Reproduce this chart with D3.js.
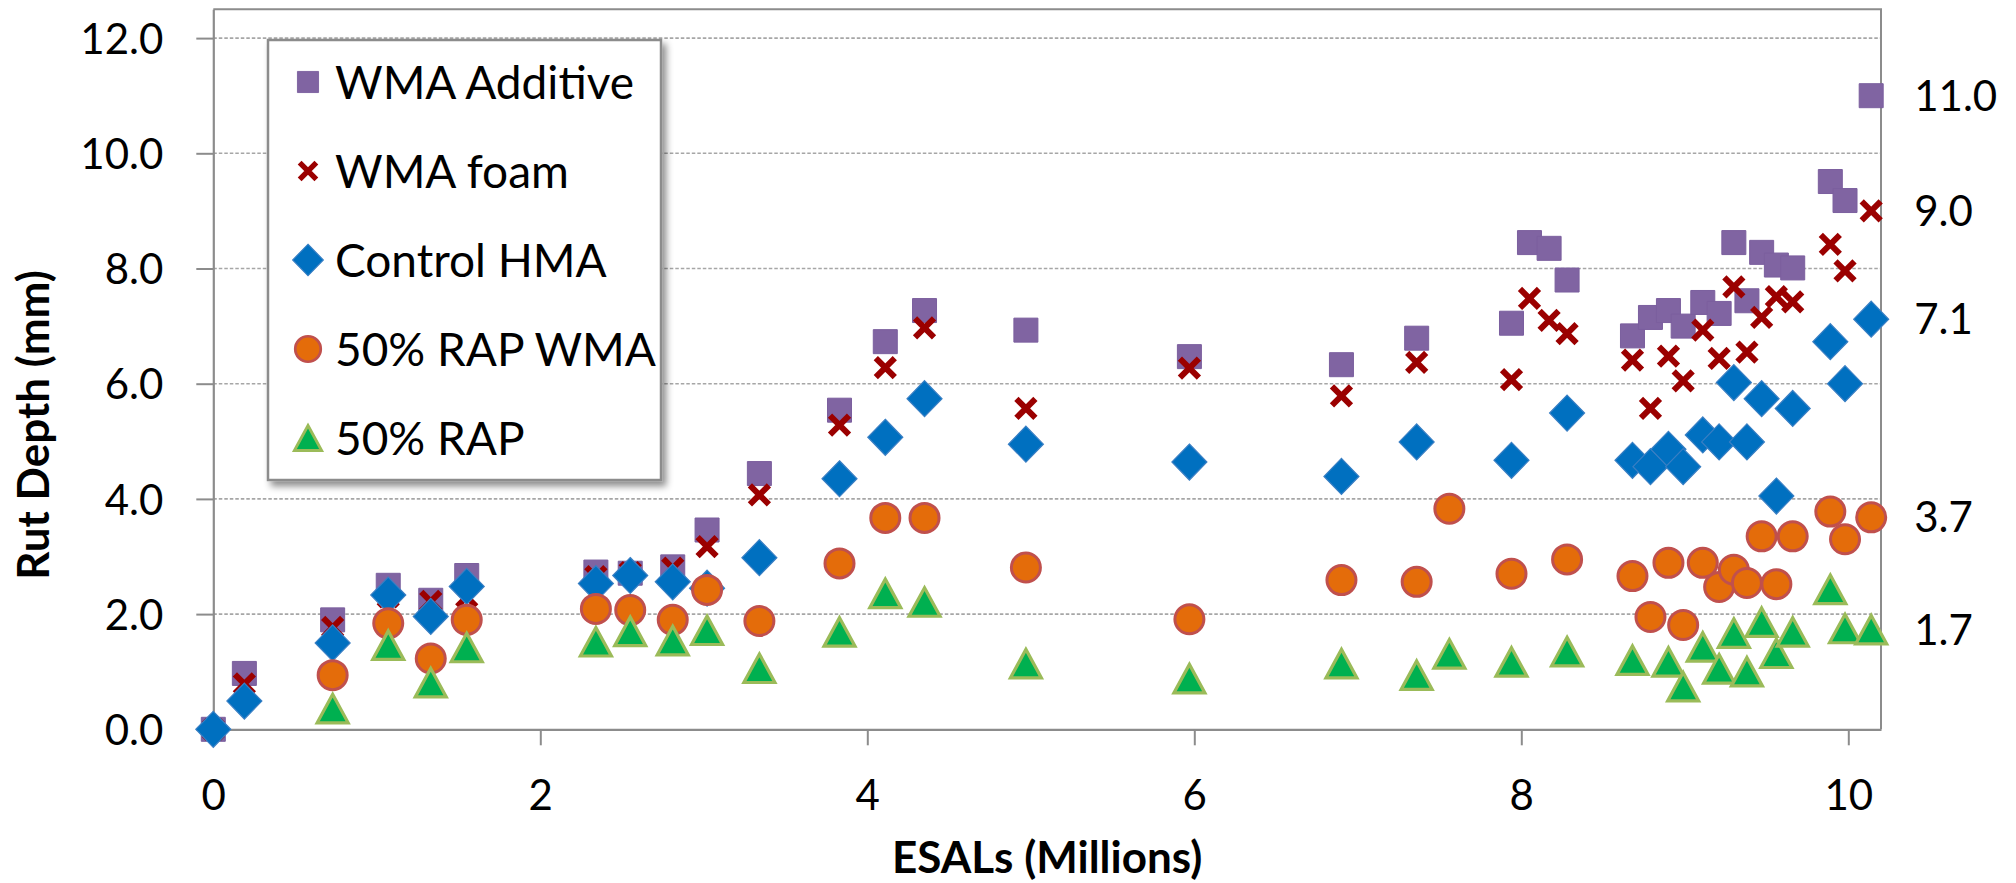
<!DOCTYPE html>
<html>
<head>
<meta charset="utf-8">
<script src="https://cdn.jsdelivr.net/npm/d3@7"></script>
<style>
  html, body { margin: 0; padding: 0; background: #fff; }
  svg { display: block; font-family: Lato, "Open Sans", sans-serif; }
  .tick text { fill: #000; }
</style>
</head>
<body>
<div id="chart"></div>
<script>
// ESALs (millions) at each reading
const esals = [0, 0.19, 0.73, 1.07, 1.33, 1.55, 2.34, 2.55, 2.81, 3.02, 3.34, 3.83, 4.11, 4.35,
  4.97, 5.97, 6.90, 7.36, 7.56, 7.94, 8.05, 8.17, 8.28, 8.68, 8.79, 8.90, 8.99, 9.11, 9.21,
  9.30, 9.38, 9.47, 9.56, 9.66, 9.89, 9.98, 10.14];

// rut depth (mm), null where a mix has no reading
const wmaAdditive = [0.0, 0.97, 1.90, 2.50, 2.24, 2.67, 2.73, 2.71, 2.82, 3.46, 4.44, 5.54, 6.73, 7.27,
  6.93, 6.47, 6.33, 6.79, null, 7.05, 8.45, 8.35, 7.80, 6.83, 7.15, 7.27, 7.00, 7.41, 7.22,
  8.45, 7.44, 8.28, 8.06, 8.01, 9.51, 9.18, 11.0];
const wmaFoam = [0.0, 0.79, 1.77, 2.30, 2.22, 2.30, 2.65, 2.72, 2.80, 3.17, 4.07, 5.28, 6.28, 6.97,
  5.57, 6.27, 5.79, 6.37, null, 6.07, 7.48, 7.10, 6.87, 6.41, 5.57, 6.48, 6.05, 6.93, 6.44,
  7.68, 6.55, 7.15, 7.51, 7.42, 8.42, 7.96, 9.0];
const controlHma = [0.0, 0.49, 1.50, 2.33, 1.96, 2.48, 2.53, 2.67, 2.56, 2.45, 2.98, 4.35, 5.07, 5.74,
  4.95, 4.64, 4.39, 4.99, null, 4.67, null, null, 5.49, 4.67, 4.56, 4.86, 4.56, 5.11, 4.99,
  6.02, 4.99, 5.74, 4.05, 5.57, 6.73, 6.00, 7.12];
const rapWma = [null, null, 0.94, 1.84, 1.23, 1.90, 2.09, 2.07, 1.90, 2.42, 1.88, 2.88, 3.67, 3.67,
  2.81, 1.91, 2.59, 2.56, 3.83, 2.70, null, null, 2.95, 2.66, 1.95, 2.89, 1.81, 2.89, 2.47,
  2.77, 2.54, 3.35, 2.52, 3.35, 3.78, 3.30, 3.68];
const rap = [null, null, 0.36, 1.46, 0.81, 1.42, 1.52, 1.70, 1.54, 1.72, 1.06, 1.69, 2.36, 2.21,
  1.14, 0.88, 1.14, 0.94, 1.31, 1.17, null, null, 1.35, 1.20, null, 1.17, 0.74, 1.43, 1.05,
  1.67, 1.00, 1.86, 1.32, 1.69, 2.43, 1.75, 1.73];

const seriesNames = ['WMA Additive', 'WMA foam', 'Control HMA', '50% RAP WMA', '50% RAP'];
const seriesValues = [wmaAdditive, wmaFoam, controlHma, rapWma, rap];
const xTicks = [0, 2, 4, 6, 8, 10];
const yTicks = [0, 2, 4, 6, 8, 10, 12];

// marker look per series
const markers = [
  { shape: 'square', fill: '#8064A2', stroke: '#7b5f9e', sw: 1 },
  { shape: 'x', fill: 'none', stroke: '#9B0000', sw: 6 },
  { shape: 'diamond', fill: '#0070C0', stroke: '#3a7fc4', sw: 1.2 },
  { shape: 'circle', fill: '#E46C0A', stroke: '#C0504D', sw: 3 },
  { shape: 'triangle', fill: '#00B050', stroke: '#9BBB59', sw: 3.2 }
];

function markerPath(shape, k) {
  k = k || 1;
  if (shape === 'square') {
    let s = 24 * k;
    return `M${-s / 2},${-s / 2}h${s}v${s}h${-s}Z`;
  } else if (shape === 'x') {
    let s = 9.5 * k;
    return `M${-s},${-s}L${s},${s}M${-s},${s}L${s},${-s}`;
  } else if (shape === 'diamond') {
    let w = 35 * k, h = 36 * k;
    return `M0,${-h / 2}L${w / 2},0L0,${h / 2}L${-w / 2},0Z`;
  } else if (shape === 'circle') {
    let r = 14.5 * k;
    return `M${r},0A${r},${r} 0 1,1 ${-r},0A${r},${r} 0 1,1 ${r},0Z`;
  } else {
    let w = 31 * k, h = 28.5 * k;
    return `M0,${-h / 2}L${w / 2},${h / 2}L${-w / 2},${h / 2}Z`;
  }
}

const width = 2016, height = 883;
const plot = { left: 213.3, right: 1881, top: 9.3, bottom: 729.3 };

const svg = d3.select('#chart').append('svg')
  .attr('width', width)
  .attr('height', height);

const defs = svg.append('defs');
const shadow = defs.append('filter').attr('id', 'shadow')
  .attr('x', '-10%').attr('y', '-10%').attr('width', '130%').attr('height', '130%');
shadow.append('feDropShadow')
  .attr('dx', 4).attr('dy', 5).attr('stdDeviation', 3.5)
  .attr('flood-color', '#000').attr('flood-opacity', 0.45);

const x = d3.scaleLinear().domain([0, 10.2]).range([plot.left, plot.right]);
const y = d3.scaleLinear().domain([0, 12.5]).range([plot.bottom, plot.top]);

// gridlines
svg.append('g').attr('class', 'grid')
  .selectAll('line')
  .data(yTicks.filter((d) => d > 0))
  .enter()
  .append('line')
  .attr('x1', plot.left).attr('x2', plot.right)
  .attr('y1', (d) => y(d)).attr('y2', (d) => y(d))
  .attr('stroke', '#a6a6a6')
  .attr('stroke-width', 1.6)
  .attr('stroke-dasharray', '3.5,2');

// plot frame (top + right)
svg.append('path')
  .attr('d', `M${plot.left},${plot.top}H${plot.right}V${plot.bottom}`)
  .attr('fill', 'none')
  .attr('stroke', '#8c8c8c')
  .attr('stroke-width', 2);

// axes
const xAxis = svg.append('g')
  .attr('transform', `translate(0,${plot.bottom})`)
  .call(d3.axisBottom(x).tickValues(xTicks).tickFormat(d3.format('d'))
    .tickSize(16).tickSizeOuter(0).tickPadding(35));

const yAxis = svg.append('g')
  .attr('transform', `translate(${plot.left},0)`)
  .call(d3.axisLeft(y).tickValues(yTicks).tickFormat(d3.format('.1f'))
    .tickSize(17).tickSizeOuter(0).tickPadding(33));

[xAxis, yAxis].forEach((g) => {
  g.select('.domain').attr('stroke', '#8c8c8c').attr('stroke-width', 2.2);
  g.selectAll('.tick line').attr('stroke', '#8c8c8c').attr('stroke-width', 2);
  g.selectAll('.tick text')
    .attr('font-family', 'Lato, sans-serif')
    .attr('font-size', 42);
});
yAxis.selectAll('.tick text').attr('dy', '0.36em');

// axis titles
svg.append('text')
  .attr('x', (plot.left + plot.right) / 2)
  .attr('y', 873)
  .attr('text-anchor', 'middle')
  .attr('font-weight', 'bold')
  .attr('font-size', 44)
  .text('ESALs (Millions)');

svg.append('text')
  .attr('transform', 'translate(49,425) rotate(-90)')
  .attr('text-anchor', 'middle')
  .attr('font-weight', 'bold')
  .attr('font-size', 44)
  .text('Rut Depth (mm)');

// series
const marks = svg.append('g').attr('class', 'marks');
seriesValues.forEach((vals, i) => {
  let m = markers[i];
  let pts = esals.map((e, j) => [e, vals[j]]).filter((p) => p[1] !== null);
  marks.append('g')
    .selectAll('path')
    .data(pts)
    .enter()
    .append('path')
    .attr('transform', (d) => `translate(${x(d[0])},${y(d[1])})`)
    .attr('d', markerPath(m.shape))
    .attr('fill', m.fill)
    .attr('stroke', m.stroke)
    .attr('stroke-width', m.sw);

  // label on last reading
  let last = pts[pts.length - 1];
  svg.append('text')
    .attr('x', x(last[0]) + 43)
    .attr('y', y(last[1]))
    .attr('dy', '0.36em')
    .attr('font-size', 42)
    .text(d3.format('.1f')(last[1]));
});

// legend
const legend = svg.append('g').attr('class', 'legend');
legend.append('rect')
  .attr('x', 268).attr('y', 40)
  .attr('width', 393).attr('height', 440)
  .attr('fill', '#fff')
  .attr('stroke', '#8c8c8c')
  .attr('stroke-width', 2.5)
  .attr('filter', 'url(#shadow)');

const legendY = d3.scaleLinear().domain([0, 4]).range([82, 438]);
const item = legend.selectAll('.item')
  .data(seriesNames)
  .enter()
  .append('g')
  .attr('class', 'item')
  .attr('transform', (d, i) => `translate(0,${legendY(i)})`);

item.append('path')
  .attr('transform', 'translate(308,0)')
  .attr('d', (d, i) => markerPath(markers[i].shape, 0.88))
  .attr('fill', (d, i) => markers[i].fill)
  .attr('stroke', (d, i) => markers[i].stroke)
  .attr('stroke-width', (d, i) => markers[i].sw * 0.9);

item.append('text')
  .attr('x', 335)
  .attr('dy', '0.36em')
  .attr('font-size', 46)
  .text((d) => d);
</script>
</body>
</html>
